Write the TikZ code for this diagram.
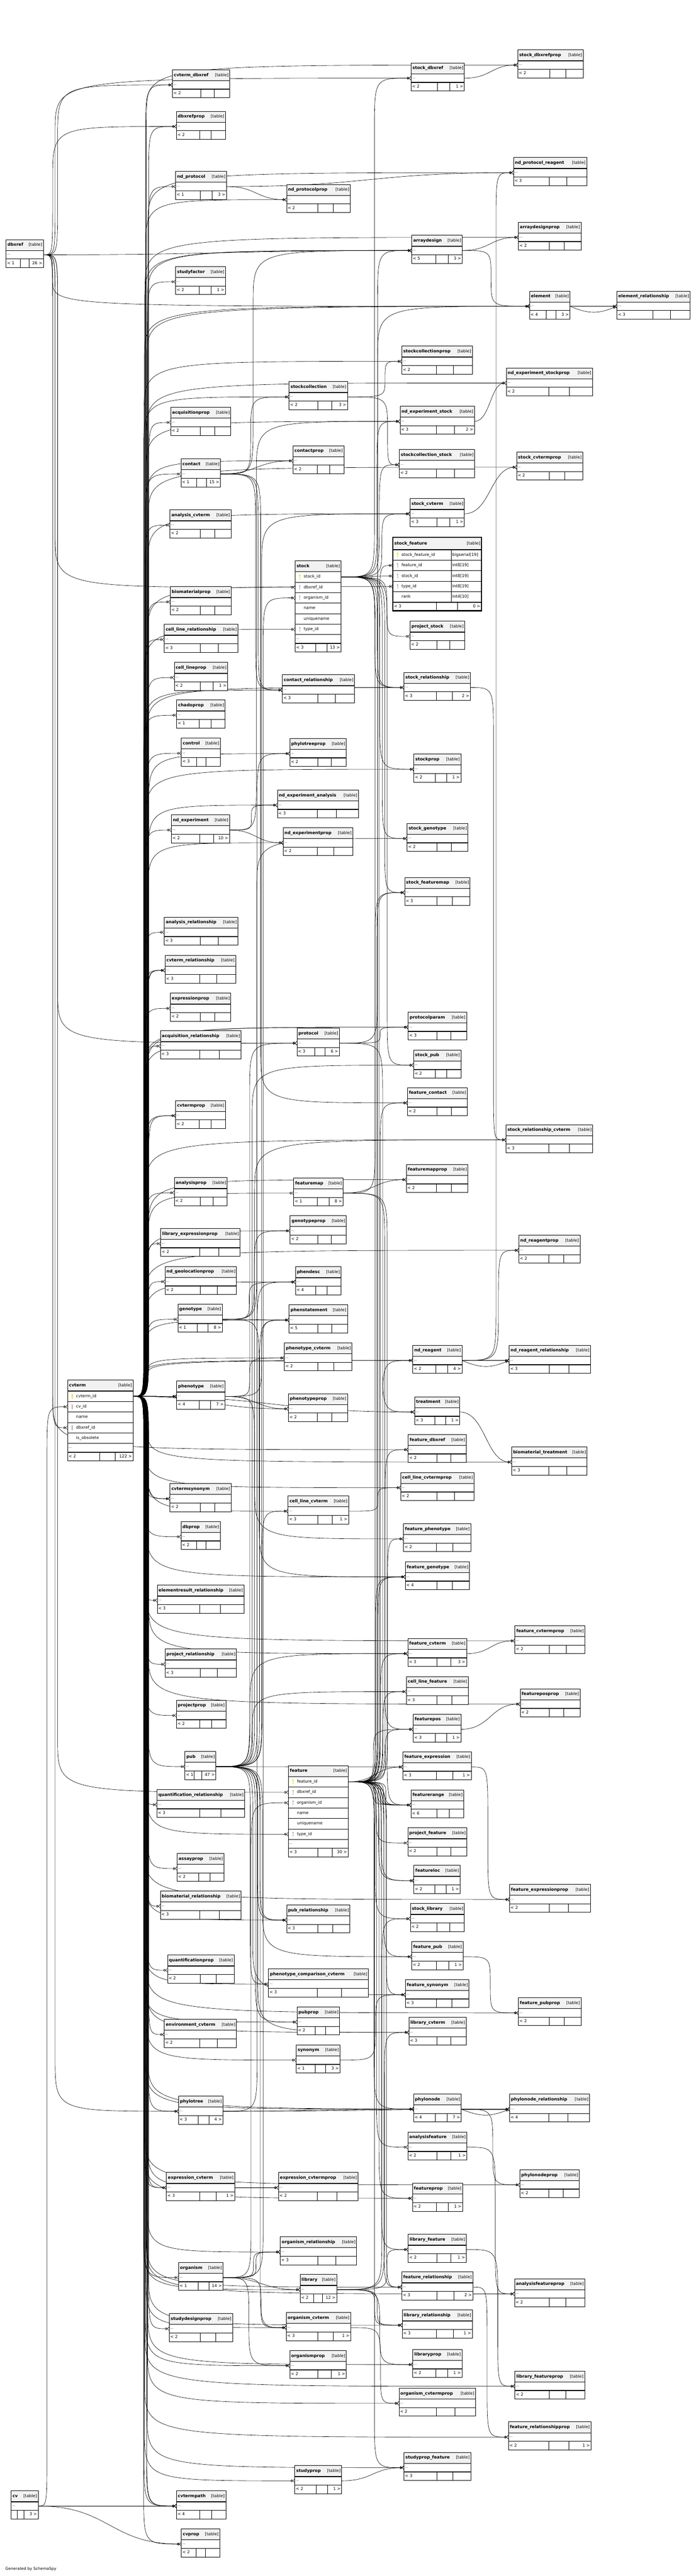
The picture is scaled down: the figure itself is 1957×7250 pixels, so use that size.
\documentclass[tikz,border=0pt]{standalone}
\usepackage{fontspec}
\setmainfont{DejaVu Sans}
\usetikzlibrary{arrows.meta}
\pgfdeclarelayer{bg}
\pgfsetlayers{bg,main}
\definecolor{hdrc}{HTML}{F2F2F2}
\definecolor{pkc}{HTML}{E8E000}
\definecolor{fkc}{HTML}{B0B0B0}
\newcounter{ek}
\tikzset{
 bx/.style={draw=black,line width=0.8pt},
 sepl/.style={draw=black,line width=1.8pt},
 nm/.style={anchor=west,inner sep=0pt,font=\fontsize{12}{14}\selectfont\bfseries,text height=9pt,text depth=2.5pt},
 tg/.style={anchor=east,inner sep=0pt,font=\fontsize{11.5}{14}\selectfont,text height=9pt,text depth=2.5pt},
 tx/.style={anchor=west,inner sep=0pt,font=\fontsize{11.5}{14}\selectfont,text height=8.5pt,text depth=2.5pt},
 dotx/.style={anchor=west,inner sep=0pt,font=\fontsize{9}{11}\selectfont},
 fkl/.style={line width=0.9pt,-{Circle[open,length=5pt,width=7pt,line width=0.9pt]Straight Barb[reversed,length=5pt,width=10pt,line width=0.9pt]}}
}
\newcommand\Setpt[3]{\expandafter\xdef\csname PX@#1\endcsname{#2}\expandafter\xdef\csname PY@#1\endcsname{#3}\coordinate (#1) at (#2,#3);}
\newcommand\Keyic[3]{\fill[#3] (#1,#2-4.5) circle (2.4pt); \draw[#3,line width=1.5pt] (#1,#2-3) -- (#1,#2+7);}
\newcommand\Hd[4]{\fill[hdrc] (#2,#3) rectangle (#4,#3+31);
 \node[nm] (#1-n) at (#2+4,#3+15.5) {#1};
 \node[tg] (#1-t) at (#4-3,#3+15.5) {[table]};}
\newcommand\Ft[6]{\pgfmathsetmacro\mW{#4-#2}\pgfmathsetmacro\mdB{#4-max(0.27*\mW,40)}\pgfmathsetmacro\mdA{\mdB-0.24*\mW}%
 \draw[bx] (\mdA,#3) -- (\mdA,#3+24) (\mdB,#3) -- (\mdB,#3+24);
 \node[tx] (#1-l) at (#2+3,#3+12) {#5};
 \node[tx,anchor=east] (#1-r) at (#4-3,#3+12) {#6};}
\newcommand\Tb[6]{\fill[white] (#2,#3) rectangle (#4,#3+79);
 \Hd{#1}{#2}{#3}{#4}
 \node[dotx] (#1-d) at (#2+3,#3+43) {...};
 \Ft{#1}{#2}{#3+55}{#4}{#5}{#6}
 \draw[sepl] (#2,#3+31) -- (#4,#3+31) (#2,#3+55) -- (#4,#3+55);
 \draw[bx] (#2,#3) rectangle (#4,#3+79);
 \Setpt{#1-in}{#2}{#3+43}\Setpt{#1-out}{#4}{#3+43}}
\newcommand\Xr[7]{\draw[bx] (#4,#5) rectangle (#6,#5+#7);
 \ifcase#3\or\Keyic{#4+13}{#5+#7/2}{pkc}\or\Keyic{#4+13}{#5+#7/2}{fkc}\fi
 \node[tx] (#1-#2) at (#4+24,#5+#7/2) {#2};
 \Setpt{#1-#2-in}{#4}{#5+#7/2}\Setpt{#1-#2-out}{#6}{#5+#7/2}}
\newcommand\Getxy[2]{\pgfmathsetmacro\mxa{\csname PX@#1\endcsname}\pgfmathsetmacro\mya{\csname PY@#1\endcsname}%
 \pgfmathsetmacro\mxb{\csname PX@#2\endcsname}\pgfmathsetmacro\myb{\csname PY@#2\endcsname}}
\newcommand\Fk[4]{\stepcounter{ek}\Getxy{#1}{#2}%
 \pgfmathsetmacro\mchx{#3+mod(\theek*7,#4+1)}%
 \pgfmathtruncatemacro\mflag{abs(\myb-\mya)<45 ? 1 : 0}%
 \ifnum\mflag=1
  \pgfmathsetmacro\mxm{(\mxa+\mxb)/2}%
  \draw[fkl] (#1) .. controls (\mxm,\mya) and (\mxm,\myb) .. (#2);
 \else
  \pgfmathsetmacro\mrr{min(150,abs(\myb-\mya)/2)*ifthenelse(\myb>\mya,1,-1)}%
  \pgfmathsetmacro\myc{\mya+(\mrr)}\pgfmathsetmacro\myd{\myb-(\mrr)}%
  \draw[fkl] (#1) .. controls (\mchx,\mya) .. (\mchx,\myc) -- (\mchx,\myd) .. controls (\mchx,\myb) .. (#2);
 \fi}
\newcommand\Fd[2]{\Getxy{#1}{#2}\pgfmathsetmacro\mxm{(\mxa+\mxb)/2}%
 \draw[fkl] (#1) .. controls (\mxm,\mya) and (\mxm,\myb) .. (#2);}
\newcommand\Fdb[2]{\Getxy{#1}{#2}\pgfmathsetmacro\mxm{0.4*(\mxb-\mxa)}%
 \draw[fkl] (#1) .. controls (\mxa+\mxm,\mya+22) and (\mxb-\mxm,\myb+22) .. (#2);}
\begin{document}
\catcode`\_=12
\begin{tikzpicture}[x=1pt,y=-1pt]
\useasboundingbox (0,0) rectangle (1957,7250);
\begin{pgfonlayer}{bg}
\fill[white] (0,0) rectangle (1957,7250);
\end{pgfonlayer}
% ---------- collapsed tables
\Tb{cvterm_dbxref}{485}{196}{646}{< 2}{}
\Tb{dbxrefprop}{496}{313}{634}{< 2}{}
\Tb{stock_dbxref}{1156}{177}{1306}{< 2}{1 >}
\Tb{stock_dbxrefprop}{1456}{140}{1640}{< 2}{}
\Tb{nd_protocol}{494}{482}{637}{< 1}{3 >}
\Tb{nd_protocolprop}{806}{519}{985}{< 2}{}
\Tb{nd_protocol_reagent}{1444}{443}{1650}{< 3}{}
\Tb{dbxref}{17}{674}{122}{< 1}{26 >}
\Tb{arraydesignprop}{1458}{625}{1634}{< 2}{}
\Tb{arraydesign}{1158}{662}{1300}{< 5}{3 >}
\Tb{studyfactor}{494}{750}{634}{< 2}{1 >}
\Tb{element}{1489}{819}{1603}{< 4}{3 >}
\Tb{element_relationship}{1735}{819}{1941}{< 3}{}
\Tb{stockcollectionprop}{1130}{974}{1328}{< 2}{}
\Tb{nd_experiment_stockprop}{1424}{1035}{1666}{< 2}{}
\Tb{stockcollection}{813}{1074}{977}{< 2}{3 >}
\Tb{nd_experiment_stock}{1125}{1143}{1334}{< 3}{2 >}
\Tb{acquisitionprop}{480}{1146}{649}{< 2}{}
\Tb{contactprop}{824}{1254}{967}{< 2}{}
\Tb{stockcollection_stock}{1123}{1265}{1335}{< 2}{}
\Tb{stock_cvtermprop}{1453}{1272}{1639}{< 2}{}
\Tb{contact}{509}{1291}{620}{< 1}{15 >}
\Tb{stock_cvterm}{1153}{1403}{1306}{< 3}{1 >}
\Tb{analysis_cvterm}{478}{1435}{650}{< 2}{}
\Tb{biomaterialprop}{479}{1651}{650}{< 2}{}
\Tb{project_stock}{1153}{1748}{1307}{< 2}{}
\Tb{cell_line_relationship}{462}{1757}{669}{< 3}{}
\Tb{cell_lineprop}{490}{1864}{640}{< 2}{1 >}
\Tb{contact_relationship}{794}{1899}{997}{< 3}{}
\Tb{stock_relationship}{1136}{1892}{1323}{< 3}{2 >}
\Tb{chadoprop}{497}{1970}{633}{< 1}{}
\Tb{control}{510}{2077}{619}{< 3}{}
\Tb{phylotreeprop}{815}{2078}{974}{< 2}{}
\Tb{stockprop}{1164}{2122}{1296}{< 2}{1 >}
\Tb{nd_experiment_analysis}{780}{2223}{1008}{< 3}{}
\Tb{nd_experiment}{482}{2293}{645}{< 2}{10 >}
\Tb{nd_experimentprop}{796}{2329}{992}{< 2}{}
\Tb{stock_genotype}{1145}{2317}{1316}{< 2}{}
\Tb{stock_featuremap}{1138}{2469}{1322}{< 3}{}
\Tb{analysis_relationship}{462}{2581}{669}{< 3}{}
\Tb{cvterm_relationship}{464}{2688}{663}{< 3}{}
\Tb{expressionprop}{479}{2795}{649}{< 2}{}
\Tb{acquisition_relationship}{451}{2901}{678}{< 3}{}
\Tb{protocol}{835}{2893}{954}{< 3}{6 >}
\Tb{protocolparam}{1148}{2848}{1312}{< 3}{}
\Tb{stock_pub}{1163}{2955}{1296}{< 2}{}
\Tb{feature_contact}{1146}{3061}{1314}{< 2}{}
\Tb{cvtermprop}{494}{3097}{634}{< 2}{}
\Tb{stock_relationship_cvterm}{1423}{3165}{1667}{< 3}{}
\Tb{featuremapprop}{1143}{3277}{1316}{< 2}{}
\Tb{analysisprop}{490}{3314}{639}{< 2}{}
\Tb{featuremap}{826}{3315}{965}{< 1}{8 >}
\Tb{genotypeprop}{816}{3421}{974}{< 2}{}
\Tb{library_expressionprop}{452}{3457}{675}{< 2}{}
\Tb{nd_reagentprop}{1459}{3476}{1631}{< 2}{}
\Tb{nd_geolocationprop}{464}{3564}{665}{< 2}{}
\Tb{phendesc}{831}{3565}{959}{< 4}{}
\Tb{genotype}{500}{3670}{625}{< 1}{8 >}
\Tb{phenstatement}{813}{3672}{977}{< 5}{}
\Tb{phenotype_cvterm}{800}{3779}{990}{< 2}{}
\Tb{nd_reagent}{1161}{3786}{1299}{< 2}{4 >}
\Tb{nd_reagent_relationship}{1432}{3786}{1661}{< 3}{}
\Tb{phenotype}{497}{3887}{632}{< 4}{7 >}
\Tb{phenotypeprop}{811}{3922}{977}{< 2}{}
\Tb{treatment}{1166}{3931}{1293}{< 3}{1 >}
\Tb{feature_dbxref}{1148}{4037}{1311}{< 2}{}
\Tb{biomaterial_treatment}{1439}{4072}{1651}{< 3}{}
\Tb{cell_line_cvtermprop}{1127}{4144}{1333}{< 2}{}
\Tb{cvtermsynonym}{478}{4175}{650}{< 2}{}
\Tb{cell_line_cvterm}{810}{4210}{980}{< 3}{1 >}
\Tb{dbprop}{509}{4282}{619}{< 2}{}
\Tb{feature_phenotype}{1135}{4288}{1324}{< 2}{}
\Tb{feature_genotype}{1140}{4395}{1320}{< 4}{}
\Tb{elementresult_relationship}{442}{4461}{686}{< 3}{}
\Tb{feature_cvtermprop}{1448}{4575}{1645}{< 2}{}
\Tb{feature_cvterm}{1147}{4611}{1312}{< 3}{3 >}
\Tb{project_relationship}{464}{4641}{665}{< 3}{}
\Tb{cell_line_feature}{1143}{4718}{1317}{< 3}{}
\Tb{featureposprop}{1463}{4753}{1631}{< 2}{}
\Tb{projectprop}{496}{4785}{635}{< 2}{}
\Tb{featurepos}{1162}{4824}{1296}{< 3}{1 >}
\Tb{pub}{520}{4929}{607}{< 1}{47 >}
\Tb{feature_expression}{1133}{4930}{1325}{< 3}{1 >}
\Tb{quantification_relationship}{441}{5036}{688}{< 3}{}
\Tb{featurerange}{1156}{5037}{1304}{< 6}{}
\Tb{project_feature}{1147}{5144}{1313}{< 2}{}
\Tb{assayprop}{498}{5216}{630}{< 2}{}
\Tb{featureloc}{1164}{5250}{1294}{< 2}{1 >}
\Tb{feature_expressionprop}{1433}{5303}{1660}{< 2}{}
\Tb{biomaterial_relationship}{451}{5322}{678}{< 3}{}
\Tb{stock_library}{1154}{5357}{1306}{< 2}{}
\Tb{pub_relationship}{806}{5361}{984}{< 3}{}
\Tb{feature_pub}{1158}{5464}{1302}{< 2}{1 >}
\Tb{quantificationprop}{471}{5502}{658}{< 2}{}
\Tb{phenotype_comparison_cvterm}{755}{5541}{1036}{< 3}{}
\Tb{feature_synonym}{1140}{5571}{1319}{< 3}{}
\Tb{feature_pubprop}{1458}{5622}{1634}{< 2}{}
\Tb{pubprop}{835}{5648}{955}{< 2}{}
\Tb{library_cvterm}{1150}{5677}{1311}{< 3}{}
\Tb{environment_cvterm}{462}{5683}{665}{< 2}{}
\Tb{synonym}{833}{5755}{956}{< 1}{3 >}
\Tb{phylotree}{502}{5899}{627}{< 3}{4 >}
\Tb{phylonode}{1163}{5893}{1297}{< 4}{7 >}
\Tb{phylonode_relationship}{1433}{5893}{1658}{< 4}{}
\Tb{analysisfeature}{1147}{6000}{1313}{< 2}{1 >}
\Tb{phylonodeprop}{1462}{6106}{1629}{< 2}{}
\Tb{expression_cvterm}{468}{6114}{660}{< 3}{1 >}
\Tb{expression_cvtermprop}{783}{6114}{1007}{< 2}{}
\Tb{featureprop}{1160}{6144}{1301}{< 2}{1 >}
\Tb{organism_relationship}{788}{6295}{1003}{< 3}{}
\Tb{library_feature}{1148}{6288}{1311}{< 2}{1 >}
\Tb{organism}{502}{6367}{627}{< 1}{14 >}
\Tb{feature_relationship}{1130}{6394}{1330}{< 3}{2 >}
\Tb{library}{844}{6401}{947}{< 2}{12 >}
\Tb{analysisfeatureprop}{1447}{6413}{1645}{< 2}{}
\Tb{studydesignprop}{476}{6511}{654}{< 2}{}
\Tb{organism_cvterm}{805}{6508}{986}{< 3}{1 >}
\Tb{library_relationship}{1131}{6501}{1328}{< 3}{1 >}
\Tb{organismprop}{815}{6615}{974}{< 2}{1 >}
\Tb{libraryprop}{1161}{6612}{1299}{< 2}{1 >}
\Tb{library_featureprop}{1448}{6673}{1644}{< 2}{}
\Tb{organism_cvtermprop}{1122}{6721}{1337}{< 2}{}
\Tb{feature_relationshipprop}{1430}{6816}{1662}{< 2}{1 >}
\Tb{studyprop_feature}{1136}{6902}{1324}{< 3}{}
\Tb{studyprop}{829}{6939}{961}{< 2}{1 >}
\Tb{cv}{31}{7010}{107}{}{3 >}
\Tb{cvtermpath}{496}{7010}{635}{< 4}{}
\Tb{cvprop}{510}{7117}{618}{< 2}{}
% ---------- expanded: stock
\fill[white] (830,1578) rectangle (959,1835);
\Hd{stock}{830}{1578}{959}
\Xr{stock}{stock_id}{1}{830}{1609}{959}{29.5}
\Xr{stock}{dbxref_id}{2}{830}{1638.5}{959}{29.5}
\Xr{stock}{organism_id}{2}{830}{1668}{959}{29.5}
\Xr{stock}{name}{0}{830}{1697.5}{959}{29.5}
\Xr{stock}{uniquename}{0}{830}{1727}{959}{29.5}
\Xr{stock}{type_id}{2}{830}{1756.5}{959}{29.5}
\node[dotx] (stock-d) at (833,1798.5) {...};
\Ft{stock}{830}{1811}{959}{< 3}{13 >}
\draw[sepl] (830,1609) -- (959,1609) (830,1811) -- (959,1811);
\draw[bx] (830,1578) rectangle (959,1835);
\Setpt{stock-out}{959}{1623.75}
% ---------- expanded: cvterm
\fill[white] (190,3884) rectangle (374,4111.5);
\Hd{cvterm}{190}{3884}{374}
\Xr{cvterm}{cvterm_id}{1}{190}{3915}{374}{29.5}
\Xr{cvterm}{cv_id}{2}{190}{3944.5}{374}{29.5}
\Xr{cvterm}{name}{0}{190}{3974}{374}{29.5}
\Xr{cvterm}{dbxref_id}{2}{190}{4003.5}{374}{29.5}
\Xr{cvterm}{is_obsolete}{0}{190}{4033}{374}{29.5}
\node[dotx] (cvterm-d) at (193,4075) {...};
\Ft{cvterm}{190}{4087.5}{374}{< 2}{122 >}
\draw[sepl] (190,3915) -- (374,3915) (190,4087.5) -- (374,4087.5);
\draw[bx] (190,3884) rectangle (374,4111.5);
\Setpt{cvterm-out}{374}{3929.75}
% ---------- expanded: feature
\fill[white] (811,4969) rectangle (979,5226);
\Hd{feature}{811}{4969}{979}
\Xr{feature}{feature_id}{1}{811}{5000}{979}{29.5}
\Xr{feature}{dbxref_id}{2}{811}{5029.5}{979}{29.5}
\Xr{feature}{organism_id}{2}{811}{5059}{979}{29.5}
\Xr{feature}{name}{0}{811}{5088.5}{979}{29.5}
\Xr{feature}{uniquename}{0}{811}{5118}{979}{29.5}
\Xr{feature}{type_id}{2}{811}{5147.5}{979}{29.5}
\node[dotx] (feature-d) at (814,5189.5) {...};
\Ft{feature}{811}{5202}{979}{< 3}{30 >}
\draw[sepl] (811,5000) -- (979,5000) (811,5202) -- (979,5202);
\draw[bx] (811,4969) rectangle (979,5226);
\Setpt{feature-out}{979}{5014.75}
% ---------- expanded: stock_feature
\fill[white] (1105,1513) rectangle (1354,1719);
\fill[hdrc] (1105,1513) rectangle (1354,1547);
\node[nm] (stock_feature-n) at (1109,1530) {stock_feature};
\node[tg] (stock_feature-t) at (1351,1530) {[table]};
\Xr{stock_feature}{stock_feature_id}{1}{1105}{1547}{1269}{29.6}
\Xr{stock_feature}{feature_id}{2}{1105}{1576.6}{1269}{29.6}
\Xr{stock_feature}{stock_id}{2}{1105}{1606.2}{1269}{29.6}
\Xr{stock_feature}{type_id}{2}{1105}{1635.8}{1269}{29.6}
\Xr{stock_feature}{rank}{0}{1105}{1665.4}{1269}{29.6}
\draw[bx] (1269,1547) rectangle (1354,1695);
\draw[bx] (1269,1576.6) -- (1354,1576.6) (1269,1606.2) -- (1354,1606.2) (1269,1635.8) -- (1354,1635.8) (1269,1665.4) -- (1354,1665.4);
\node[tx] (stock_feature-ty1) at (1272,1561.8) {bigserial[19]};
\node[tx] (stock_feature-ty2) at (1272,1591.4) {int8[19]};
\node[tx] (stock_feature-ty3) at (1272,1621) {int8[19]};
\node[tx] (stock_feature-ty4) at (1272,1650.6) {int8[19]};
\node[tx] (stock_feature-ty5) at (1272,1680.2) {int4[10]};
\Ft{stock_feature}{1105}{1695}{1354}{< 3}{0 >}
\draw[sepl] (1105,1547) -- (1354,1547) (1105,1695) -- (1354,1695);
\draw[line width=3pt] (1105,1513) rectangle (1354,1719);
\node[tx,font=\fontsize{11}{13}\selectfont] (gen) at (15,7230) {Generated by SchemaSpy};
% ---------- connectors
\begin{pgfonlayer}{bg}
\foreach \c in {cvterm_dbxref-in,dbxrefprop-in,stock_dbxrefprop-in,nd_protocol-in,nd_protocolprop-in,nd_protocol_reagent-in,arraydesignprop-in,arraydesign-in,arraydesign-in,studyfactor-in,element-in,element_relationship-in,stockcollectionprop-in,nd_experiment_stockprop-in,stockcollection-in,nd_experiment_stock-in,acquisitionprop-in,contactprop-in,stock_cvtermprop-in,contact-in,stock_cvterm-in,analysis_cvterm-in,stock_feature-type_id-in,stock-type_id-in,biomaterialprop-in,cell_line_relationship-in,cell_lineprop-in,contact_relationship-in,stock_relationship-in,chadoprop-in,control-in,phylotreeprop-in,stockprop-in,nd_experiment_analysis-in,nd_experiment-in,nd_experimentprop-in,analysis_relationship-in,cvterm_relationship-in,cvterm_relationship-in,cvterm_relationship-in,expressionprop-in,acquisition_relationship-in,protocol-in,protocolparam-in,protocolparam-in,cvtermprop-in,cvtermprop-in,stock_relationship_cvterm-in,featuremapprop-in,analysisprop-in,featuremap-in,genotypeprop-in,library_expressionprop-in,nd_reagentprop-in,nd_geolocationprop-in,phendesc-in,genotype-in,phenstatement-in,phenotype_cvterm-in,nd_reagent-in,nd_reagent_relationship-in,phenotype-in,phenotype-in,phenotype-in,phenotype-in,phenotypeprop-in,treatment-in,biomaterial_treatment-in,cell_line_cvtermprop-in,cvtermsynonym-in,cvtermsynonym-in,cell_line_cvterm-in,dbprop-in,feature_genotype-in,elementresult_relationship-in,feature_cvtermprop-in,feature_cvterm-in,project_relationship-in,featureposprop-in,projectprop-in,pub-in,quantification_relationship-in,assayprop-in,feature_expressionprop-in,biomaterial_relationship-in,pub_relationship-in,quantificationprop-in,phenotype_comparison_cvterm-in,feature_pubprop-in,pubprop-in,library_cvterm-in,environment_cvterm-in,synonym-in,phylotree-in,phylonode-in,phylonode_relationship-in,phylonodeprop-in,expression_cvterm-in,expression_cvterm-in,expression_cvtermprop-in,featureprop-in,organism_relationship-in,organism-in,feature_relationship-in,library-in,analysisfeatureprop-in,studydesignprop-in,organism_cvterm-in,library_relationship-in,organismprop-in,libraryprop-in,library_featureprop-in,organism_cvtermprop-in,feature_relationshipprop-in,studyprop_feature-in,studyprop-in,cvtermpath-in,cvtermpath-in,cvtermpath-in,cvprop-in,feature-type_id-in}{\Fk{cvterm-out}{\c}{404}{14}}
\foreach \c in {cvterm_dbxref-in,dbxrefprop-in,stock_dbxref-in,arraydesign-in,element-in,stock-dbxref_id-in,protocol-in,feature_dbxref-in,phylotree-in,feature-dbxref_id-in,cvterm-dbxref_id-in}{\Fk{dbxref-out}{\c}{148}{20}}
\Fk{cv-out}{cvterm-cv_id-in}{132}{0}
\Fd{cv-out}{cvtermpath-in}
\Fd{cv-out}{cvprop-in}
% channel C parents
\foreach \c in {stock_cvterm-in,protocol-in,stock_pub-in,stock_relationship_cvterm-in,phendesc-in,phenstatement-in,cell_line_cvterm-in,feature_cvterm-in,cell_line_feature-in,feature_expression-in,pub_relationship-in,pub_relationship-in,feature_pub-in,phenotype_comparison_cvterm-in,feature_synonym-in,pubprop-in,library_cvterm-in,organism_cvterm-in}{\Fk{pub-out}{\c}{700}{40}}
\foreach \c in {contactprop-in,stockcollection-in,arraydesign-in,contact_relationship-in,contact_relationship-in,feature_contact-in}{\Fk{contact-out}{\c}{700}{40}}
\foreach \c in {stock-organism_id-in,feature-organism_id-in,organism_relationship-in,organism_relationship-in,library-in,organism_cvterm-in,organismprop-in}{\Fk{organism-out}{\c}{700}{40}}
\foreach \c in {nd_experiment_analysis-in,nd_experimentprop-in,nd_experiment_stock-in}{\Fk{nd_experiment-out}{\c}{700}{40}}
\foreach \c in {nd_protocolprop-in,nd_protocol_reagent-in}{\Fk{nd_protocol-out}{\c}{700}{40}}
\foreach \c in {phendesc-in,phenstatement-in,genotypeprop-in,stock_genotype-in,feature_genotype-in}{\Fk{genotype-out}{\c}{700}{40}}
\foreach \c in {phenstatement-in,phenotype_cvterm-in,phenotypeprop-in,feature_phenotype-in}{\Fk{phenotype-out}{\c}{700}{40}}
\foreach \c in {phylotreeprop-in,phylonode-in,phylonode_relationship-in}{\Fk{phylotree-out}{\c}{700}{40}}
\Fd{expression_cvterm-out}{expression_cvtermprop-in}
% channel D parents
\foreach \c in {stock_dbxref-in,nd_experiment_stock-in,stockcollection_stock-in,stock_cvterm-in,stock_feature-stock_id-in,project_stock-in,stock_relationship-in,stock_relationship-in,stockprop-in,stock_genotype-in,stock_featuremap-in,stock_pub-in,stock_library-in}{\Fk{stock-out}{\c}{1050}{40}}
\foreach \c in {element-in,feature_contact-in,nd_reagent-in,feature_dbxref-in,feature_phenotype-in,feature_genotype-in,feature_genotype-in,feature_cvterm-in,cell_line_feature-in,featurepos-in,featurepos-in,feature_expression-in,featurerange-in,featurerange-in,featurerange-in,featurerange-in,featurerange-in,project_feature-in,featureloc-in,featureloc-in,feature_pub-in,feature_synonym-in,phylonode-in,analysisfeature-in,featureprop-in,library_feature-in,feature_relationship-in,feature_relationship-in,studyprop_feature-in,stock_featuremap-in,stock_feature-feature_id-in}{\Fk{feature-out}{\c}{1050}{40}}
\foreach \c in {stock_library-in,library_cvterm-in,library_feature-in,library_relationship-in,library_relationship-in,libraryprop-in}{\Fk{library-out}{\c}{1050}{40}}
\foreach \c in {featuremapprop-in,featurepos-in,featurerange-in,stock_featuremap-in}{\Fk{featuremap-out}{\c}{1050}{40}}
\foreach \c in {arraydesign-in,protocolparam-in,treatment-in}{\Fk{protocol-out}{\c}{1050}{40}}
\foreach \c in {stockcollectionprop-in,stockcollection_stock-in}{\Fk{stockcollection-out}{\c}{1050}{40}}
\Fk{synonym-out}{feature_synonym-in}{1050}{40}
\Fk{cell_line_cvterm-out}{cell_line_cvtermprop-in}{1050}{40}
\Fk{organism_cvterm-out}{organism_cvtermprop-in}{1050}{40}
\Fk{studyprop-out}{studyprop_feature-in}{1050}{40}
% channel E parents
\Fd{stock_dbxref-out}{stock_dbxrefprop-in}
\Fd{arraydesign-out}{arraydesignprop-in}
\Fk{arraydesign-out}{element-in}{1368}{36}
\Fd{nd_experiment_stock-out}{nd_experiment_stockprop-in}
\Fd{stock_cvterm-out}{stock_cvtermprop-in}
\Fk{stock_relationship-out}{stock_relationship_cvterm-in}{1368}{36}
\Fk{nd_reagent-out}{nd_protocol_reagent-in}{1368}{36}
\Fk{nd_reagent-out}{nd_reagentprop-in}{1368}{36}
\Fd{nd_reagent-out}{nd_reagent_relationship-in}
\Fdb{nd_reagent-out}{nd_reagent_relationship-in}
\Fd{treatment-out}{biomaterial_treatment-in}
\Fd{feature_cvterm-out}{feature_cvtermprop-in}
\Fd{featurepos-out}{featureposprop-in}
\Fk{feature_expression-out}{feature_expressionprop-in}{1368}{36}
\Fk{feature_pub-out}{feature_pubprop-in}{1368}{36}
\Fd{phylonode-out}{phylonode_relationship-in}
\Fdb{phylonode-out}{phylonode_relationship-in}
\Fk{phylonode-out}{phylonodeprop-in}{1368}{36}
\Fk{analysisfeature-out}{analysisfeatureprop-in}{1368}{36}
\Fk{library_feature-out}{library_featureprop-in}{1368}{36}
\Fk{feature_relationship-out}{feature_relationshipprop-in}{1368}{36}
\Fd{element-out}{element_relationship-in}
\Fdb{element-out}{element_relationship-in}
\end{pgfonlayer}
\end{tikzpicture}
\end{document}
